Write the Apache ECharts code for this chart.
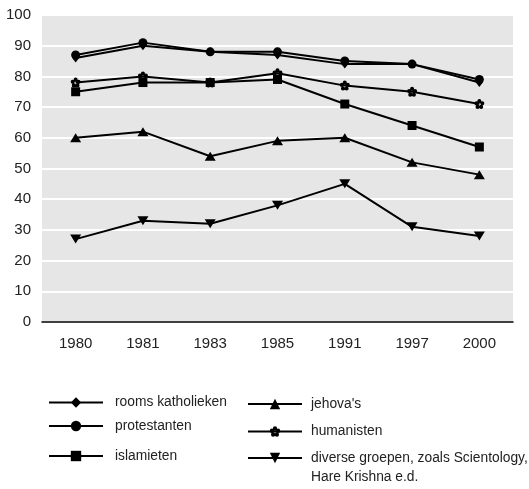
<!DOCTYPE html>
<html><head><meta charset="utf-8">
<script src="https://cdn.jsdelivr.net/npm/echarts@6/dist/echarts.min.js"></script>
<style>html,body{margin:0;padding:0;background:#fff}#c{width:529px;height:489px}</style>
</head><body><div id="c"></div>
<script>
const years = ['1980','1981','1983','1985','1991','1997','2000'];
const yTicks = [0,10,20,30,40,50,60,70,80,90,100];
const katholieken = [86, 90, 88, 87, 84, 84, 78];
const protestanten = [87, 91, 88, 88, 85, 84, 79];
const islamieten = [75, 78, 78, 79, 71, 64, 57];
const jehovas = [60, 62, 54, 59, 60, 52, 48];
const humanisten = [78, 80, 78, 81, 77, 75, 71];
const diverse = [27, 33, 32, 38, 45, 31, 28];
const names = ['rooms katholieken','protestanten','islamieten',"jehova's",'humanisten','diverse groepen, zoals Scientology,\nHare Krishna e.d.'];

// flower symbol: five petals around a small hole
function flowerPath(){
  let p = '';
  const R = 0.55, r = 0.36;
  for (let k = 0; k < 5; k++) {
    const a = -Math.PI/2 + k * 2*Math.PI/5;
    const cx = R*Math.cos(a), cy = R*Math.sin(a);
    p += `M${(cx-r).toFixed(3)} ${cy.toFixed(3)}a${r} ${r} 0 1 0 ${2*r} 0a${r} ${r} 0 1 0 ${-2*r} 0z`;
  }
  return 'path://' + p;
}
const FLOWER = flowerPath();

const TXT = '#222';
const LEGFONT = '"Liberation Sans",Arial,sans-serif';
const chart = echarts.init(document.getElementById('c'), null, {renderer:'canvas'});
function ser(name, data, symbol, size, rotate){
  return {
    name, type:'line', data, symbol, symbolSize:size, symbolRotate: rotate||0,
    xAxisIndex:0, yAxisIndex:0,
    lineStyle:{color:'#000', width:2}, itemStyle:{color:'#000', borderWidth:0},
    showAllSymbol:true, animation:false, z:3
  };
}
function leg(name, left, top, padLeft, formatter){
  const o = {
    data:[name], left, top, padding:0, orient:'vertical',
    itemWidth:54, itemHeight:13, selectedMode:false,
    textStyle:{color:TXT, fontFamily:LEGFONT, fontSize:13.8, lineHeight:19, padding:[0,0,0,padLeft]}
  };
  if (formatter) o.formatter = formatter;
  return o;
}
chart.setOption({
  animation:false,
  grid:{left:42, right:16, top:15, bottom:167, show:true, backgroundColor:'#e6e6e6', borderWidth:0},
  xAxis:[{
    type:'category', data:years, boundaryGap:true,
    axisLine:{lineStyle:{color:'#000', width:1.5}},
    axisTick:{alignWithLabel:true, length:5, lineStyle:{color:'#000', width:1.2}},
    axisLabel:{color:TXT, fontFamily:'"Liberation Sans",Arial,sans-serif', fontSize:15, margin:14},
    splitLine:{show:false}, z:5
  },{
    type:'category', data:years, boundaryGap:true, position:'bottom',
    axisLine:{show:false},
    axisTick:{alignWithLabel:true, inside:true, length:6, lineStyle:{color:'#000', width:1.2}},
    axisLabel:{show:false}, splitLine:{show:false}, z:5
  }],
  yAxis:{
    type:'value', min:0, max:100, interval:10,
    axisLine:{show:false}, axisTick:{show:false},
    axisLabel:{color:TXT, fontFamily:'"Liberation Sans",Arial,sans-serif', fontSize:15, margin:11, padding:[0,0,7,0],
      formatter:v => yTicks.includes(v) ? String(v) : ''},
    splitLine:{lineStyle:{color:'#fff', width:2}}
  },
  legend:[
    leg(names[0], 48, 393, 7),
    leg(names[1], 48, 416.5, 7),
    leg(names[2], 48, 446.5, 7),
    leg(names[3], 247, 394.5, 4),
    leg(names[4], 247, 422, 4),
    leg(names[5], 247, 429.5, 4, n => '\n' + n)
  ],
  series:[
    ser(names[0], katholieken, 'diamond', [7,9]),
    ser(names[1], protestanten, 'circle', 9),
    ser(names[2], islamieten, 'rect', 9),
    ser(names[3], jehovas, 'triangle', [11,9]),
    ser(names[4], humanisten, FLOWER, 10),
    ser(names[5], diverse, 'triangle', [11,9], 180)
  ]
});
</script></body></html>
